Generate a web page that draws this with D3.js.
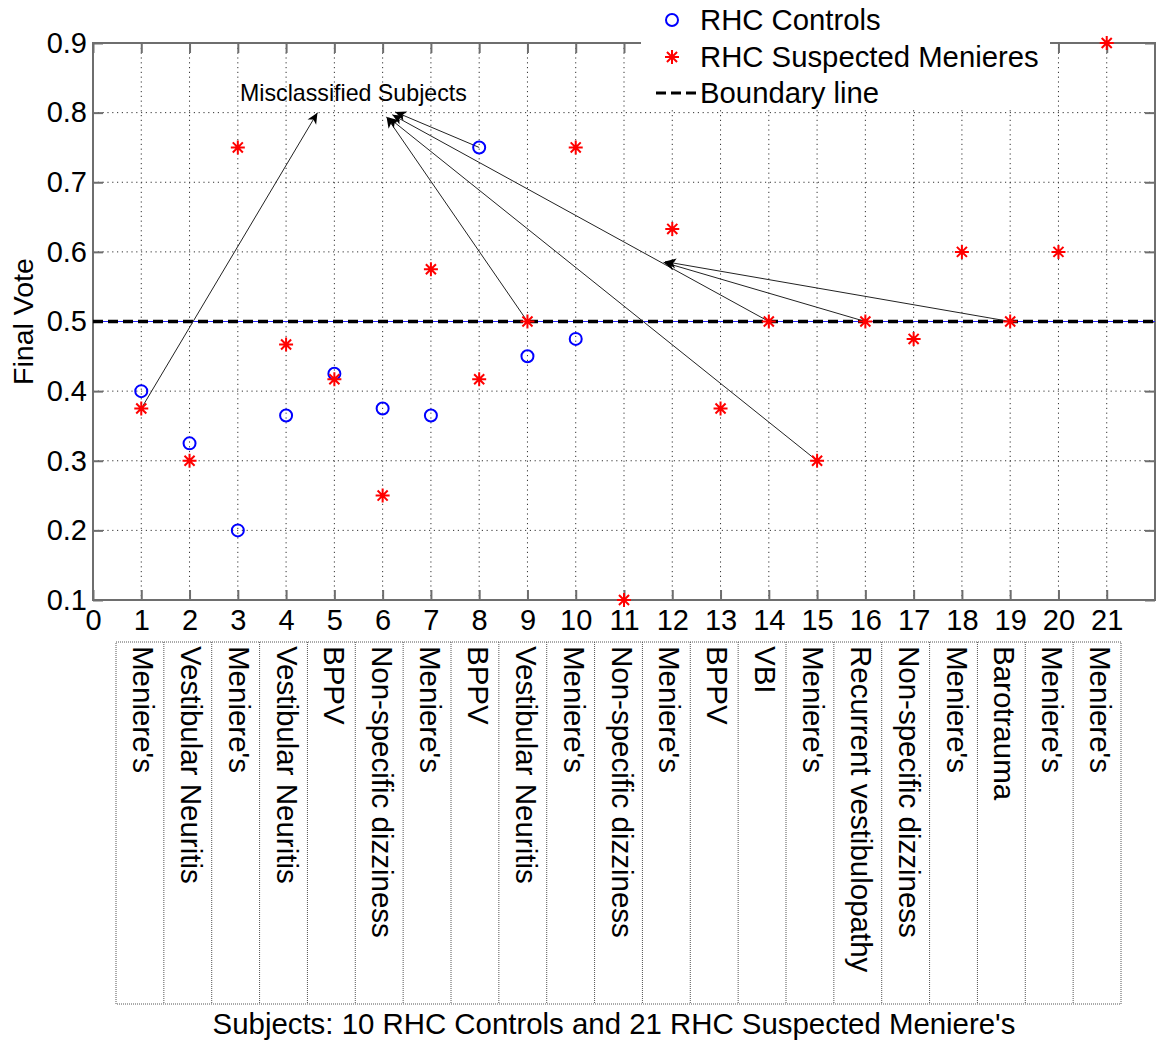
<!DOCTYPE html>
<html lang="en">
<head>
<meta charset="utf-8">
<title>Final Vote</title>
<script src="https://d3js.org/d3.v7.min.js"></script>
<style>
  body { margin: 0; background: #fff; }
  svg { display: block; font-family: "Liberation Sans", Arial, sans-serif; }
</style>
</head>
<body>
<div id="chart"></div>
<script>
// subjects and their final votes
const controlSubjects = [1, 2, 3, 4, 5, 6, 7, 8, 9, 10];
const controlVotes = [0.40, 0.325, 0.20, 0.365, 0.425, 0.375, 0.365, 0.75, 0.45, 0.475];
const suspectSubjects = [1, 2, 3, 4, 5, 6, 7, 8, 9, 10, 11, 12, 13, 14, 15, 16, 17, 18, 19, 20, 21];
const suspectVotes = [0.375, 0.30, 0.75, 0.467, 0.417, 0.25, 0.575, 0.417, 0.50, 0.75, 0.10,
                      0.633, 0.375, 0.50, 0.30, 0.50, 0.475, 0.60, 0.50, 0.60, 0.90];
const diagnoses = ["Meniere's", "Vestibular Neuritis", "Meniere's", "Vestibular Neuritis", "BPPV",
                   "Non-specific dizziness", "Meniere's", "BPPV", "Vestibular Neuritis", "Meniere's",
                   "Non-specific dizziness", "Meniere's", "BPPV", "VBI", "Meniere's",
                   "Recurrent vestibulopathy", "Non-specific dizziness", "Meniere's", "Barotrauma",
                   "Meniere's", "Meniere's"];
const xTicks = [0, 1, 2, 3, 4, 5, 6, 7, 8, 9, 10, 11, 12, 13, 14, 15, 16, 17, 18, 19, 20, 21];
const yTicks = [0.1, 0.2, 0.3, 0.4, 0.5, 0.6, 0.7, 0.8, 0.9];
const boundaryVote = 0.5;
const legendLabels = ["RHC Controls", "RHC Suspected Menieres", "Boundary line"];
const noteText = "Misclassified Subjects";
// annotation arrows in data units: [fromX, fromY, toX, toY]
const arrows = [
    [1, 0.375, 4.65, 0.80],
    [8, 0.75, 6.26, 0.801],
    [9, 0.50, 6.08, 0.794],
    [14, 0.50, 6.2, 0.797],
    [15, 0.30, 6.12, 0.793],
    [16, 0.50, 11.82, 0.585],
    [19, 0.50, 11.85, 0.586]
];

const w = 1157, h = 1044;
const mLeft = 93, mRight = 1155, mTop = 43, mBottom = 600;

const x = d3.scaleLinear().domain([0, 22]).range([mLeft, mRight]);
const y = d3.scaleLinear().domain([0.1, 0.9]).range([mBottom, mTop]);

const svg = d3.select("#chart").append("svg")
    .attr("width", w)
    .attr("height", h);

// grid
svg.append("g").selectAll("line")
    .data(xTicks.slice(1))
    .join("line")
    .attr("x1", d => x(d)).attr("x2", d => x(d))
    .attr("y1", mTop).attr("y2", mBottom)
    .attr("stroke", "#333").attr("stroke-dasharray", "1.2,3.6");
svg.append("g").selectAll("line")
    .data(yTicks.slice(1, -1))
    .join("line")
    .attr("x1", mLeft).attr("x2", mRight)
    .attr("y1", d => y(d)).attr("y2", d => y(d))
    .attr("stroke", "#333").attr("stroke-dasharray", "1.2,3.6");

// axes
const tickStyle = g => {
    g.select(".domain").remove();
    g.selectAll(".tick line").attr("stroke", "#6e6e6e").attr("stroke-width", 2);
    g.selectAll(".tick text").attr("fill", "#000").attr("font-size", 29);
};
svg.append("g")
    .attr("transform", `translate(0,${mBottom})`)
    .call(d3.axisBottom(x).tickValues(xTicks).tickSizeInner(-10).tickSizeOuter(0).tickPadding(9).tickFormat(d3.format("d")))
    .call(tickStyle);
svg.append("g")
    .attr("transform", `translate(0,${mTop})`)
    .call(d3.axisTop(x).tickValues(xTicks).tickSizeInner(-10).tickSizeOuter(0).tickFormat(""))
    .call(tickStyle);
svg.append("g")
    .attr("transform", `translate(${mLeft},0)`)
    .call(d3.axisLeft(y).tickValues(yTicks).tickSizeInner(-10).tickSizeOuter(0).tickPadding(6).tickFormat(d3.format(".1f")))
    .call(tickStyle);
svg.append("g")
    .attr("transform", `translate(${mRight},0)`)
    .call(d3.axisRight(y).tickValues(yTicks).tickSizeInner(-10).tickSizeOuter(0).tickFormat(""))
    .call(tickStyle);

svg.append("rect")
    .attr("x", mLeft).attr("y", mTop)
    .attr("width", mRight - mLeft).attr("height", mBottom - mTop)
    .attr("fill", "none").attr("stroke", "#6e6e6e").attr("stroke-width", 2);

// axis labels
svg.append("text")
    .attr("transform", `translate(33,${(mTop + mBottom) / 2}) rotate(-90)`)
    .attr("text-anchor", "middle")
    .attr("font-size", 28.5)
    .text("Final Vote");
svg.append("text")
    .attr("x", 614).attr("y", 1034)
    .attr("text-anchor", "middle")
    .attr("font-size", 29.4)
    .text("Subjects: 10 RHC Controls and 21 RHC Suspected Meniere's");

// diagnosis table under the axis
const table = d3.scaleBand().domain(suspectSubjects).range([116, 1121]);
const tTop = 642, tBottom = 1004;
const tg = svg.append("g");
tg.append("rect")
    .attr("x", table.range()[0]).attr("y", tTop)
    .attr("width", table.range()[1] - table.range()[0]).attr("height", tBottom - tTop)
    .attr("fill", "none").attr("stroke", "#555").attr("stroke-dasharray", "1,1");
tg.selectAll("line")
    .data(suspectSubjects.slice(1))
    .join("line")
    .attr("x1", d => table(d)).attr("x2", d => table(d))
    .attr("y1", tTop).attr("y2", tBottom)
    .attr("stroke", "#555").attr("stroke-dasharray", "1,1");
tg.selectAll("text")
    .data(suspectSubjects)
    .join("text")
    .attr("transform", d => `translate(${table(d) + table.bandwidth() / 2 - 7},${tTop + 4}) rotate(90)`)
    .attr("font-size", 29.5)
    .text((d, i) => diagnoses[i]);

// boundary line
svg.append("line")
    .attr("x1", mLeft).attr("x2", mRight)
    .attr("y1", y(boundaryVote)).attr("y2", y(boundaryVote))
    .attr("stroke", "#1f1fff").attr("stroke-width", 1);
svg.append("line")
    .attr("x1", mLeft).attr("x2", mRight)
    .attr("y1", y(boundaryVote)).attr("y2", y(boundaryVote))
    .attr("stroke", "#000").attr("stroke-width", 3.5).attr("stroke-dasharray", "10,5");

// arrows
svg.append("defs").append("marker")
    .attr("id", "head")
    .attr("markerUnits", "userSpaceOnUse")
    .attr("viewBox", "-12 -6 14 12")
    .attr("refX", 0).attr("refY", 0)
    .attr("markerWidth", 14).attr("markerHeight", 12)
    .attr("orient", "auto")
    .append("path")
    .attr("d", "M0,0 L-11,-5 L-8,0 L-11,5 Z")
    .attr("fill", "#000");

svg.append("g").selectAll("line")
    .data(arrows)
    .join("line")
    .attr("x1", d => x(d[0])).attr("y1", d => y(d[1]))
    .attr("x2", d => x(d[2])).attr("y2", d => y(d[3]))
    .attr("stroke", "#222").attr("stroke-width", 1)
    .attr("marker-end", "url(#head)");

svg.append("text")
    .attr("x", 240).attr("y", 101)
    .attr("font-size", 23.2)
    .text(noteText);

// markers
const starPath = r => {
    const d = r * 0.72;
    return `M0,${-r}V${r}M${-r},0H${r}M${-d},${-d}L${d},${d}M${-d},${d}L${d},${-d}`;
};

svg.append("g").selectAll("circle")
    .data(controlSubjects)
    .join("circle")
    .attr("cx", d => x(d))
    .attr("cy", (d, i) => y(controlVotes[i]))
    .attr("r", 6)
    .attr("fill", "none").attr("stroke", "#0000ff").attr("stroke-width", 2);

svg.append("g").selectAll("path")
    .data(suspectSubjects)
    .join("path")
    .attr("transform", (d, i) => `translate(${x(d)},${y(suspectVotes[i])})`)
    .attr("d", starPath(7))
    .attr("fill", "none").attr("stroke", "#ff0000").attr("stroke-width", 2);

// legend
const lg = svg.append("g");
lg.append("rect")
    .attr("x", 641).attr("y", 0).attr("width", 409).attr("height", 110)
    .attr("fill", "#fff");
const rowY = [20, 57, 93];
lg.append("circle")
    .attr("cx", 672).attr("cy", rowY[0]).attr("r", 6)
    .attr("fill", "none").attr("stroke", "#0000ff").attr("stroke-width", 2);
lg.append("path")
    .attr("transform", `translate(672,${rowY[1]})`)
    .attr("d", starPath(7))
    .attr("fill", "none").attr("stroke", "#ff0000").attr("stroke-width", 2);
lg.append("line")
    .attr("x1", 656).attr("x2", 697)
    .attr("y1", rowY[2]).attr("y2", rowY[2])
    .attr("stroke", "#000").attr("stroke-width", 3).attr("stroke-dasharray", "10,5");
lg.selectAll("text")
    .data(legendLabels)
    .join("text")
    .attr("x", 700)
    .attr("y", (d, i) => rowY[i] + 10)
    .attr("font-size", 29.3)
    .text(d => d);
</script>
</body>
</html>
